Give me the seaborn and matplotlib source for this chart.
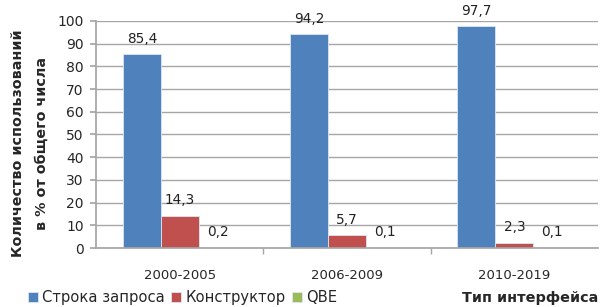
import pandas as pd
import numpy as np
import seaborn as sns
import matplotlib.pyplot as plt

periods = ['2000-2005', '2006-2009', '2010-2019']
series = ['Строка запроса', 'Конструктор', 'QBE']
query_vals = [85.4, 94.2, 97.7]
builder_vals = [14.3, 5.7, 2.3]
qbe_vals = [0.2, 0.1, 0.1]
colors = ['#4F81BD', '#C0504D', '#9BBB59']

sns.set_theme(style='white')
plt.rcParams['font.family'] = ['DejaVu Sans']

rows = []
for name, vals in zip(series, [query_vals, builder_vals, qbe_vals]):
    for p, v in zip(periods, vals):
        rows.append({'period': p, 'series': name, 'value': v})
df = pd.DataFrame(rows)

fig = plt.figure(figsize=(6.01, 3.07), dpi=100)
ax = fig.add_axes([0.16, 0.192, 0.835, 0.74])

sns.barplot(data=df, x='period', y='value', hue='series', palette=colors,
            width=0.68, gap=0, saturation=1, ax=ax, legend=True,
            edgecolor='#DDE6F0', linewidth=0.6)

for cont in ax.containers:
    labels = [('%.1f' % b.get_height()).replace('.', ',') for b in cont]
    ax.bar_label(cont, labels=labels, padding=6, fontsize=9.8, color='#222222')

ax.set_ylim(0, 100)
ax.set_yticks(np.arange(0, 101, 10))
ax.set_xlim(-0.5, 2.5)
ax.yaxis.grid(True, color='#A6A6A6', linewidth=1)
ax.set_axisbelow(True)
for s in ['top', 'right']:
    ax.spines[s].set_visible(False)
ax.spines['left'].set_color('#A6A6A6')
ax.spines['bottom'].set_color('#A6A6A6')
ax.tick_params(axis='y', left=True, length=4, color='#A6A6A6', labelsize=10, pad=5)
ax.tick_params(axis='x', bottom=False, labelsize=9.5, pad=9)
ax.set_xticks([0.5, 1.5], minor=True)
ax.tick_params(axis='x', which='minor', bottom=True, length=4, color='#A6A6A6')

ax.set_xlabel('')
ax.set_ylabel('Количество использований\nв % от общего числа', fontsize=10.3,
              fontweight='bold', linespacing=1.9)
ax.yaxis.set_label_coords(-0.094, 0.46)

handles, lbls = ax.get_legend_handles_labels()
ax.get_legend().remove()
fig.legend(handles, lbls, loc='center left', bbox_to_anchor=(0.046, 0.03),
           ncol=3, frameon=False, fontsize=10.6, handlelength=0.7, handleheight=0.7,
           handletextpad=0.3, columnspacing=0.4, borderaxespad=0, borderpad=0)
fig.text(0.995, 0.03, 'Тип интерфейса', ha='right', va='center',
         fontsize=10.4, fontweight='bold')

fig.savefig('out.png', dpi=100)
